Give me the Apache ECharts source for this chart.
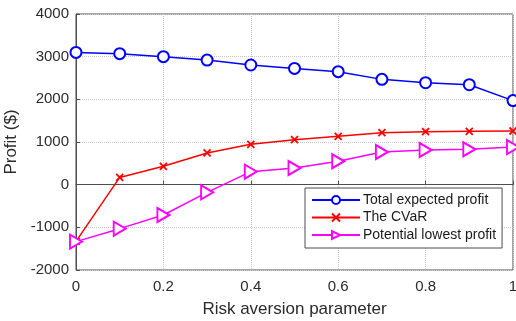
<!DOCTYPE html>
<html>
<head>
<meta charset="utf-8">
<script src="https://cdn.jsdelivr.net/npm/echarts@6/dist/echarts.min.js"></script>
<style>
  html, body { margin: 0; padding: 0; background: #fff; }
  #chart { width: 516px; height: 321px; }
</style>
</head>
<body>
<div id="chart"></div>
<script>
// Risk aversion parameter values (x axis)
const riskAversion = [0, 0.1, 0.2, 0.3, 0.4, 0.5, 0.6, 0.7, 0.8, 0.9, 1.0];

// Profit series ($)
const totalExpectedProfit = [3100, 3070, 3000, 2920, 2805, 2725, 2648, 2468, 2390, 2343, 1970];
const cvar = [-1330, 170, 430, 743, 945, 1055, 1133, 1219, 1242, 1250, 1258];
const potentialLowestProfit = [-1335, -1031, -711, -180, 305, 390, 547, 766, 813, 828, 880];

const seriesNames = ['Total expected profit', 'The CVaR', 'Potential lowest profit'];

const pairs = (ys) => riskAversion.map((x, i) => [x, ys[i]]);

const FONT = 'Liberation Sans, Arial, sans-serif';
const AXIS_TEXT = '#2b2b2b';
const FRAME = '#4d4d4d';
const CROSS = 'path://M0,0L10,10M10,0L0,10';

const chart = echarts.init(document.getElementById('chart'), null, { renderer: 'canvas' });

chart.setOption({
  animation: false,
  backgroundColor: '#ffffff',
  textStyle: { fontFamily: FONT },
  grid: {
    left: 76, top: 14, right: 3, bottom: 51,
    outerBoundsMode: 'none', containLabel: false,
    show: true, borderColor: FRAME, borderWidth: 1, backgroundColor: '#fff'
  },
  xAxis: {
    type: 'value', min: 0, max: 1, interval: 0.2,
    name: 'Risk aversion parameter', nameLocation: 'middle', nameGap: 31,
    nameTextStyle: { fontSize: 17, color: AXIS_TEXT, fontFamily: FONT },
    axisLine: { show: true, lineStyle: { color: FRAME } },
    axisTick: { show: true, inside: true, length: 4, lineStyle: { color: FRAME } },
    axisLabel: { fontSize: 15, color: AXIS_TEXT, margin: 9, fontFamily: FONT,
      formatter: (v) => String(Math.round(v * 10) / 10) },
    splitLine: { show: true, lineStyle: { color: '#c8c8c8', type: 'dotted', width: 1 } }
  },
  yAxis: {
    type: 'value', min: -2000, max: 4000, interval: 1000,
    name: 'Profit ($)', nameLocation: 'middle', nameGap: 48, nameRotate: 90,
    nameTextStyle: { fontSize: 17, color: AXIS_TEXT, fontFamily: FONT },
    axisLine: { show: true, lineStyle: { color: FRAME } },
    axisTick: { show: true, inside: true, length: 4, lineStyle: { color: FRAME } },
    axisLabel: { fontSize: 15, color: AXIS_TEXT, margin: 7, fontFamily: FONT,
      formatter: (v) => String(v) },
    splitLine: { show: true, lineStyle: { color: '#c8c8c8', type: 'dotted', width: 1 } }
  },
  legend: {
    orient: 'vertical', left: 305, top: 188,
    padding: [5, 6, 6, 6], itemGap: 3.5, itemWidth: 48, itemHeight: 10,
    backgroundColor: '#fff', borderColor: FRAME, borderWidth: 1, borderRadius: 0,
    textStyle: { fontSize: 14, color: '#1a1a1a', fontFamily: FONT, padding: [0, 0, 0, -2] },
    data: seriesNames
  },
  series: [
    {
      name: seriesNames[0], type: 'line', data: pairs(totalExpectedProfit),
      symbol: 'emptyCircle', symbolSize: 11,
      lineStyle: { color: '#0000ff', width: 1.5 },
      itemStyle: { color: '#0000ff', borderColor: '#0000ff', borderWidth: 1.5 }
    },
    {
      name: seriesNames[1], type: 'line', data: pairs(cvar),
      symbol: CROSS, symbolSize: 7,
      lineStyle: { color: '#ff0000', width: 1.5 },
      itemStyle: { color: '#ff0000', borderColor: '#ff0000', borderWidth: 1.8 }
    },
    {
      name: seriesNames[2], type: 'line', data: pairs(potentialLowestProfit),
      symbol: 'emptyTriangle', symbolSize: [14, 12], symbolRotate: -90,
      lineStyle: { color: '#ff00ff', width: 1.5 },
      itemStyle: { color: '#ff00ff', borderColor: '#ff00ff', borderWidth: 1.5 }
    }
  ]
});
</script>
</body>
</html>
